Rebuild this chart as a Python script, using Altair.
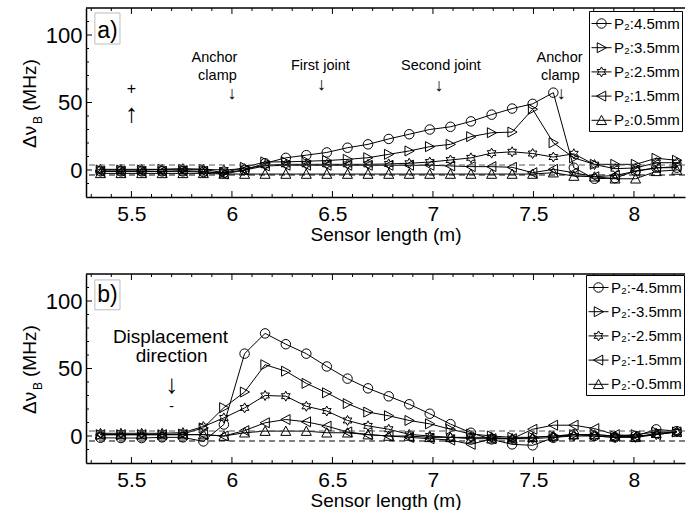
import math

import altair as alt
import pandas as pd

# Sample positions along the sensor (m)
X_POS = [5.346, 5.448, 5.551, 5.653, 5.756, 5.858, 5.960, 6.063, 6.165, 6.268,
         6.370, 6.472, 6.575, 6.677, 6.780, 6.882, 6.984, 7.087, 7.189, 7.292,
         7.394, 7.496, 7.599, 7.701, 7.804, 7.906, 8.008, 8.111, 8.213]

# Panel a): positive displacement of P2
TOP_LABELS = ["P₂:4.5mm", "P₂:3.5mm", "P₂:2.5mm", "P₂:1.5mm", "P₂:0.5mm"]
TOP_45 = [-1, -1, -1, -1, -1, -1.5, -2, 0, 5, 9, 11, 13, 16.5, 19, 23, 26.5, 30,
          32, 36, 41, 45.5, 49, 57.3, 1.7, -6.5, -6, -0.7, 1.7, 1.7]
TOP_35 = [0, 0, 0, 0.5, 0.5, 0.5, -2, 2, 6, 6, 6.5, 7, 7.9, 9.1, 11.6, 14.1, 17.3,
          19.0, 24.7, 27.6, 28.1, 45, 20.2, 9, 4.2, 4.2, 4.2, 8.7, 7.2]
TOP_25 = [0.5, 0.5, 0.5, 0.5, 1, 0.5, 0, 1, 3.5, 4.2, 4.2, 4.2, 4.2, 4.2, 4.5, 5.0,
          5.9, 7.4, 9.0, 12.5, 13.5, 12.2, 9.6, 12, 4, 1, 1.5, 5.4, 5.4]
TOP_15 = [-1, -1, -1, -1, -0.5, -1, -3, 0, 3, 3.5, 3.5, 3.5, 3.5, 3.5, 3.5, 3.5,
          3.5, 3, 2.5, 2.5, 2, -2, 0.5, -2, -5, -4, -1, 1.5, 2.5]
TOP_05 = [-2.5, -2.5, -2.5, -2.5, -2.5, -2.5, -3, -3, -3, -3, -3, -3, -3, -3, -3,
          -3, -3, -3, -3, -3, -3, -3, -2, -4.5, -5, -6.5, -6.5, -1, 0]

# Panel b): negative displacement of P2
BOT_LABELS = ["P₂:-4.5mm", "P₂:-3.5mm", "P₂:-2.5mm", "P₂:-1.5mm", "P₂:-0.5mm"]
BOT_45 = [-1.3, -1.5, -1.5, -1, -1, -4, 8.5, 61, 76, 68, 61, 51.5, 42.5, 35.3,
          29.4, 23.5, 16.5, 8.8, 2.4, -2.5, -6.2, -6.9, -1.3, 1.2, 0, -1, 0, 4.9, 3.6]
BOT_35 = [1, 1, 1, 1, 1.5, 6, 21, 32.6, 52.8, 48, 39, 32, 24, 17.7, 15, 11.5, 9,
          5, 1.5, 0, -1, -1, 0, 1, 1, 0, 1, 3, 3]
BOT_25 = [2, 2, 2, 2, 2.5, 7, 13.4, 20.8, 30, 29.5, 22, 18.5, 11.5, 7.5, 5, 1.2,
          0, -1, -1, -1, -2, -2, -1, 0, 0, -1, -1, 1, 3]
BOT_15 = [1, 1, 1, 1, 1, 1, 0, 4, 9.8, 12.2, 10.5, 7.3, 3, 1, 0, -1, -2, -3, -6.2,
          -2, -2, 5, 8, 8, 5.5, 1, 0, 1, 3]
BOT_05 = [1, 1, 1, 1, 1, 1, 0, 2.4, 3.6, 3.6, 3.6, 2.4, 2.4, 1, 0, 0, -1, -1, -2,
          -2, -2, -1, 0, 1, 1, 0, -1, 2, 3]

# Axis ticks and reference levels
X_MAJOR = [5.5, 6.0, 6.5, 7.0, 7.5, 8.0]
X_MINOR = [5.3, 5.4, 5.6, 5.7, 5.8, 5.9, 6.1, 6.2, 6.3, 6.4, 6.6, 6.7, 6.8, 6.9,
           7.1, 7.2, 7.3, 7.4, 7.6, 7.7, 7.8, 7.9, 8.1, 8.2]
Y_MAJOR = [0, 50, 100]
Y_MINOR = [-10, 10, 20, 30, 40, 60, 70, 80, 90, 110]
DASH_LEVELS = [3.7, -3.7]

# Annotations (text, x in m, y in MHz, font size)
TOP_NOTE_TEXT = ["+", "↑", "Anchor", "clamp", "↓", "First joint", "↓",
                 "Second joint", "↓", "Anchor", "clamp", "↓"]
TOP_NOTE_X = [5.5, 5.5, 5.913, 5.928, 6.0, 6.44, 6.445, 7.04, 7.03, 7.63, 7.634, 7.638]
TOP_NOTE_Y = [60, 41.5, 83, 70, 56.5, 77, 63, 77, 62, 83, 70, 56.5]
TOP_NOTE_SIZE = [16, 26, 14.5, 14.5, 18, 14.5, 18, 14.5, 18, 14.5, 14.5, 18]

BOT_NOTE_TEXT = ["Displacement", "direction", "↓", "-"]
BOT_NOTE_X = [5.694, 5.70, 5.70, 5.70]
BOT_NOTE_Y = [73.6, 58.9, 37.5, 21.3]
BOT_NOTE_SIZE = [19, 19, 26, 14]

W, H = 599, 189
X_DOMAIN = [5.274, 8.254]
Y_DOMAIN = [-20, 120]
FONT = "Liberation Sans"


def circle(s):
    r = 0.95 * s
    return f"M{r},0A{r},{r},0,1,1,{-r},0A{r},{r},0,1,1,{r},0Z"


def tri_right(s):
    return f"M{-0.85 * s},{-s}L{s},0L{-0.85 * s},{s}Z"


def tri_left(s):
    return f"M{0.85 * s},{-s}L{-s},0L{0.85 * s},{s}Z"


def tri_up(s):
    return f"M{-s},{0.85 * s}L0,{-s}L{s},{0.85 * s}Z"


def hexagram(s):
    pts = []
    for i in range(12):
        a = math.radians(90 + 30 * i)
        r = s * (1.0 if i % 2 == 0 else 0.55)
        pts.append(f"{r * math.cos(a):.3f},{-r * math.sin(a):.3f}")
    return "M" + "L".join(pts) + "Z"


SHAPES = [circle, tri_right, hexagram, tri_left, tri_up]
MARKER_PATHS = [f(1.0) for f in SHAPES]
KEY_PATHS = ["M-1,0L1,0" + f(0.5) for f in SHAPES]

x_scale = alt.Scale(domain=X_DOMAIN, nice=False, zero=False)
y_scale = alt.Scale(domain=Y_DOMAIN, nice=False, zero=False)
x_axis = alt.Axis(values=X_MAJOR, format="~g", ticks=False, tickSize=0, grid=False,
                  domainColor="black", domainWidth=1.5, labelFontSize=21,
                  labelColor="black", labelPadding=6, labelFlush=False,
                  title="Sensor length (m)", titleFontSize=19,
                  titleFontWeight="normal", titleColor="black", titlePadding=1)
y_axis = alt.Axis(values=Y_MAJOR, format="d", ticks=False, tickSize=0, grid=False,
                  domainColor="black", domainWidth=1.5, labelFontSize=22,
                  labelColor="black", labelPadding=4, title=None)


def X(field="x"):
    return alt.X(f"{field}:Q", scale=x_scale, axis=x_axis)


def Y(field="y"):
    return alt.Y(f"{field}:Q", scale=y_scale, axis=y_axis)


def one_row():
    return pd.DataFrame({"k": [0]})


def panel(labels, values, notes, tag, tag_box, tag_xy, legend_offset):
    rows = []
    for lab, ys in zip(labels, values):
        for xv, yv in zip(X_POS, ys):
            rows.append({"x": xv, "y": yv, "series": lab})
    base = alt.Chart(pd.DataFrame(rows))

    lines = base.mark_line(color="black", strokeWidth=1).encode(
        x=X(), y=Y(), detail="series:N")
    points = base.mark_point(filled=False, color="black", strokeWidth=1,
                             size=100, opacity=1).encode(
        x=X(), y=Y(),
        shape=alt.Shape("series:N", legend=None,
                        scale=alt.Scale(domain=labels, range=MARKER_PATHS)))
    key = base.transform_filter(alt.datum.x < 0).mark_point(
        filled=False, color="black", strokeWidth=1, opacity=1).encode(
        x=X(), y=Y(),
        shape=alt.Shape("series:N",
                        scale=alt.Scale(domain=labels, range=KEY_PATHS),
                        legend=alt.Legend(title=None, orient="top-right",
                                          offset=legend_offset,
                                          labelFontSize=15, labelColor="black",
                                          labelFont=FONT, labelOffset=2,
                                          labelLimit=200, symbolSize=400,
                                          symbolStrokeWidth=1,
                                          symbolStrokeColor="black",
                                          strokeColor="black", fillColor="white",
                                          padding=2, rowPadding=5.2)))

    dashes = alt.Chart(pd.DataFrame({"y": DASH_LEVELS, "c": ["#555555", "black"]})
                       ).mark_rule(strokeDash=[6, 4], strokeWidth=1).encode(
        y=Y(), color=alt.Color("c:N", scale=None))

    xt_major = pd.DataFrame({"x": X_MAJOR})
    xt_minor = pd.DataFrame({"x": X_MINOR})
    yt_major = pd.DataFrame({"y": Y_MAJOR})
    yt_minor = pd.DataFrame({"y": Y_MINOR})
    tick_layers = []
    for d, ln in ((xt_major, 6), (xt_minor, 3)):
        tick_layers.append(alt.Chart(d).mark_rule(color="black", strokeWidth=1).encode(
            x=X(), y=alt.value(H), y2=alt.value(H - ln)))
        tick_layers.append(alt.Chart(d).mark_rule(color="black", strokeWidth=1).encode(
            x=X(), y=alt.value(0), y2=alt.value(ln)))
    for d, ln in ((yt_major, 6), (yt_minor, 3)):
        tick_layers.append(alt.Chart(d).mark_rule(color="black", strokeWidth=1).encode(
            y=Y(), x=alt.value(0), x2=alt.value(ln)))

    top_border = alt.Chart(one_row()).mark_rule(color="black", strokeWidth=1.5).encode(
        x=alt.value(0), x2=alt.value(W), y=alt.value(0))

    note_df = pd.DataFrame({"x": notes[1], "y": notes[2], "t": notes[0], "fs": notes[3]})
    note_layer = alt.Chart(note_df).mark_text(
        font=FONT, color="black", align="center", baseline="middle").encode(
        x=X(), y=Y(), text="t:N", size=alt.Size("fs:Q", scale=None))

    box_df = pd.DataFrame({"x": [tag_box[0]], "x2": [tag_box[1]],
                           "y": [tag_box[2]], "y2": [tag_box[3]]})
    tag_frame = alt.Chart(box_df).mark_rect(fillOpacity=0, stroke="#bdbdbd",
                                            strokeWidth=1).encode(
        x=X(), x2="x2:Q", y=Y(), y2="y2:Q")
    tag_df = pd.DataFrame({"x": [tag_xy[0]], "y": [tag_xy[1]], "t": [tag]})
    tag_text = alt.Chart(tag_df).mark_text(font=FONT, fontSize=23, color="black",
                                           align="center", baseline="middle").encode(
        x=X(), y=Y(), text="t:N")

    # y-axis title built from pieces so that B can sit as a subscript
    ytitle = [
        alt.Chart(pd.DataFrame({"t": ["Δν"]})).mark_text(
            font=FONT, fontSize=19, angle=270, align="left", baseline="alphabetic",
            color="black").encode(x=alt.value(-50), y=alt.value(140), text="t:N"),
        alt.Chart(pd.DataFrame({"t": ["B"]})).mark_text(
            font=FONT, fontSize=12, angle=270, align="left", baseline="alphabetic",
            color="black").encode(x=alt.value(-44), y=alt.value(116), text="t:N"),
        alt.Chart(pd.DataFrame({"t": ["(MHz)"]})).mark_text(
            font=FONT, fontSize=19, angle=270, align="left", baseline="alphabetic",
            color="black").encode(x=alt.value(-50), y=alt.value(103), text="t:N"),
    ]

    return alt.layer(lines, points, key, dashes, *tick_layers, top_border,
                     note_layer, tag_frame, tag_text, *ytitle
                     ).resolve_scale(shape="independent").properties(width=W, height=H)


top = panel(TOP_LABELS, [TOP_45, TOP_35, TOP_25, TOP_15, TOP_05],
            (TOP_NOTE_TEXT, TOP_NOTE_X, TOP_NOTE_Y, TOP_NOTE_SIZE),
            "a)", (5.318, 5.443, 93.3, 116.3), (5.381, 103), 3)
bottom = panel(BOT_LABELS, [BOT_45, BOT_35, BOT_25, BOT_15, BOT_05],
               (BOT_NOTE_TEXT, BOT_NOTE_X, BOT_NOTE_Y, BOT_NOTE_SIZE),
               "b)", (5.318, 5.443, 93.5, 115.6), (5.381, 104.6), 1)

chart = alt.vconcat(top, bottom, spacing=29).properties(
    padding={"left": 21, "top": 7, "right": 0, "bottom": 0},
    background="white",
).configure(font=FONT).configure_view(strokeWidth=0)

chart.save("out.html", embed_options={"renderer": "svg", "actions": False})
